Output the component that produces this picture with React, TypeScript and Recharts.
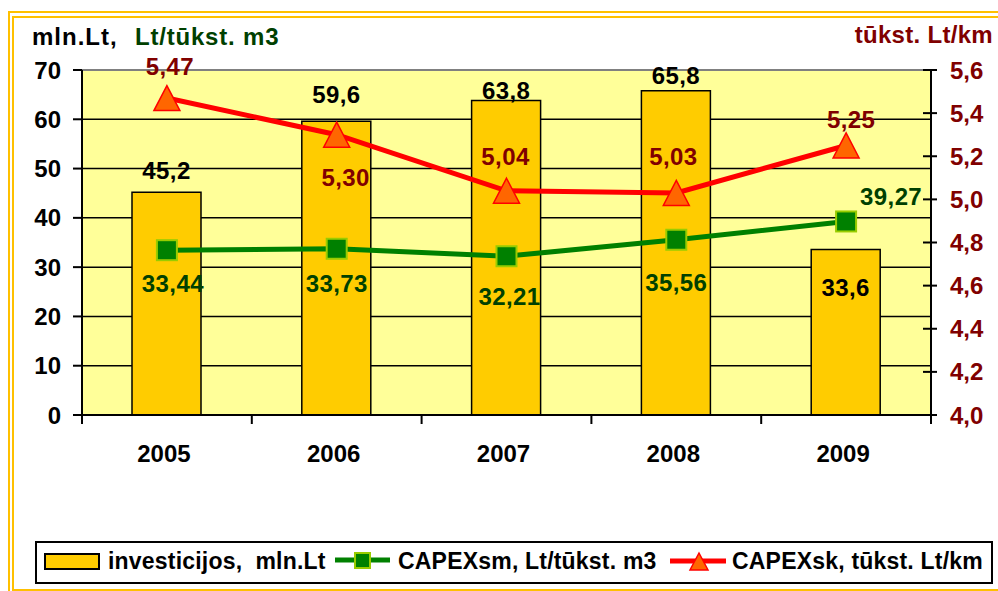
import React from 'react';
import {
  ComposedChart,
  Bar,
  Line,
  XAxis,
  YAxis,
  CartesianGrid,
  ReferenceLine,
  LabelList,
  Legend,
} from 'recharts';

// ---------- data ----------
const years = ['2005', '2006', '2007', '2008', '2009'];
const investicijos = [45.2, 59.6, 63.8, 65.8, 33.6];
const capexSm = [33.44, 33.73, 32.21, 35.56, 39.27];
const capexSk = [5.47, 5.3, 5.04, 5.03, 5.25];
const leftTicks = [0, 10, 20, 30, 40, 50, 60, 70];
const rightTicks = [4.0, 4.2, 4.4, 4.6, 4.8, 5.0, 5.2, 5.4, 5.6];
const seriesNames = ['investicijos,  mln.Lt', 'CAPEXsm, Lt/tūkst. m3', 'CAPEXsk, tūkst. Lt/km'];
const leftTitle = 'mln.Lt,';
const leftTitle2 = 'Lt/tūkst. m3';
const rightTitle = 'tūkst. Lt/km';

const data = years.map((y, i) => ({ year: y, inv: investicijos[i], sm: capexSm[i], sk: capexSk[i] }));

// ---------- layout ----------
const W = 998;
const H = 591;
const PL = 82;
const PR = 931;
const PT = 70;
const PB = 415;
const BAND = (PR - PL) / years.length;
const FONT = "Arial, 'Liberation Sans', sans-serif";
const DARK_RED = '#800000';
const DARK_GREEN = '#004000';

const fmt = (v: number, d: number) => Number(v).toFixed(d).replace('.', ',');

// label offsets (layout only)
const barLabelDy = [-13, -18, -2, -7, 47];
const smLabelDx = [6, 0, 3, 0, 45];
const smLabelDy = [42, 43, 49, 51, -16];
const skLabelDx = [3, 9, -1, -3, 5];
const skLabelDy = [-23, 51, -26, -28, -17];

const LeftTick = (p: any) => {
  const { y, payload } = p;
  return (
    <g>
      <line x1={PL - 9} x2={PL} y1={y} y2={y} stroke="#000" strokeWidth={2} />
      <text x={PL - 21} y={y + 8.5} textAnchor="end" fontSize={24} fontWeight="bold" fontFamily={FONT} fill="#000">
        {payload.value}
      </text>
    </g>
  );
};

const RightTick = (p: any) => {
  const { y, payload } = p;
  return (
    <g>
      <line x1={PR - 8} x2={PR + 6} y1={y} y2={y} stroke="#000" strokeWidth={2} />
      <text x={PR + 19} y={y + 8.5} textAnchor="start" fontSize={24} fontWeight="bold" fontFamily={FONT} fill={DARK_RED}>
        {fmt(payload.value, 1)}
      </text>
    </g>
  );
};

const XTick = (p: any) => {
  const { x, payload, index } = p;
  const last = index === years.length - 1;
  return (
    <g>
      <line x1={x - BAND / 2} x2={x - BAND / 2} y1={PB} y2={PB + 9} stroke="#000" strokeWidth={2} />
      {last && <line x1={x + BAND / 2} x2={x + BAND / 2} y1={PB} y2={PB + 9} stroke="#000" strokeWidth={2} />}
      <text x={x - 3} y={462} textAnchor="middle" fontSize={24} fontWeight="bold" fontFamily={FONT} fill="#000">
        {payload.value}
      </text>
    </g>
  );
};

const GreenDot = (p: any) => {
  const { cx, cy } = p;
  if (cx == null || cy == null) return <g />;
  return <rect x={cx - 10} y={cy - 10} width={20} height={20} fill="#008000" stroke="#99CC00" strokeWidth={2} />;
};

const RedDot = (p: any) => {
  const { cx, cy } = p;
  if (cx == null || cy == null) return <g />;
  return (
    <polygon
      points={`${cx},${cy - 12.5} ${cx + 13},${cy + 12.5} ${cx - 13},${cy + 12.5}`}
      fill="#FF6600"
      stroke="#FF0000"
      strokeWidth={1.5}
    />
  );
};

const BarLabel = (p: any) => {
  const { x, y, width, value, index } = p;
  return (
    <text x={x + width / 2} y={y + barLabelDy[index]} textAnchor="middle" fontSize={24} fontWeight="bold" fontFamily={FONT} fill="#000" letterSpacing={0.4}>
      {fmt(value, 1)}
    </text>
  );
};

const SmLabel = (p: any) => {
  const { x, y, value, index } = p;
  return (
    <text x={x + smLabelDx[index]} y={y + smLabelDy[index]} textAnchor="middle" fontSize={24} fontWeight="bold" fontFamily={FONT} fill={DARK_GREEN} letterSpacing={0.4}>
      {fmt(value, 2)}
    </text>
  );
};

const SkLabel = (p: any) => {
  const { x, y, value, index } = p;
  return (
    <text x={x + skLabelDx[index]} y={y + skLabelDy[index]} textAnchor="middle" fontSize={24} fontWeight="bold" fontFamily={FONT} fill={DARK_RED} letterSpacing={0.4}>
      {fmt(value, 2)}
    </text>
  );
};

const LegendContent = (props: any) => {
  const payload = props.payload || [];
  const nameOf = (k: string, fb: string) => {
    const e = payload.find((q: any) => q.dataKey === k);
    return e && e.value ? e.value : fb;
  };
  const ts = { fontSize: 23, fontWeight: 'bold' as const, fontFamily: FONT, fill: '#000', whiteSpace: 'pre' as const, letterSpacing: 0.2 };
  return (
    <svg width={958} height={43} style={{ display: 'block' }}>
      <rect x={1} y={1} width={956} height={41} fill="#fff" stroke="#000" strokeWidth={2} />
      <rect x={10} y={13} width={54} height={15} fill="#FFCC00" stroke="#000" strokeWidth={2} />
      <text x={73} y={28} style={ts}>{nameOf('inv', seriesNames[0])}</text>
      <line x1={300} x2={355} y1={19} y2={19} stroke="#008000" strokeWidth={5} />
      <rect x={320} y={12} width={15} height={15} fill="#008000" stroke="#99CC00" strokeWidth={2} />
      <text x={363} y={28} style={ts}>{nameOf('sm', seriesNames[1])}</text>
      <line x1={635} x2={691} y1={20} y2={20} stroke="#FF0000" strokeWidth={5} />
      <polygon points="664,12 673,29 655,29" fill="#FF6600" stroke="#FF0000" strokeWidth={1.5} />
      <text x={697} y={28} style={ts}>{nameOf('sk', seriesNames[2])}</text>
    </svg>
  );
};

export default function App() {
  return (
    <div style={{ position: 'absolute', left: 0, top: 0, width: W, height: H, overflow: 'hidden', background: '#fff' }}>
      <div
        style={{
          position: 'absolute',
          left: 8,
          top: 11,
          width: 1010,
          height: 584,
          boxSizing: 'border-box',
          borderTop: '7px double #FFC000',
          borderLeft: '6px double #FFC000',
          borderBottom: '6px double #FFC000',
          borderRight: '6px double #FFC000',
        }}
      />
      <div style={{ position: 'absolute', left: 0, top: 0 }}>
        <ComposedChart
          width={W}
          height={H}
          data={data}
          margin={{ top: PT, left: PL - 60, right: W - PR - 60, bottom: H - PB - 30 }}
        >
          <CartesianGrid yAxisId="left" vertical={false} stroke="#000" strokeWidth={1.5} fill="#FFFF99" fillOpacity={1} />
          <XAxis
            dataKey="year"
            height={30}
            interval={0}
            tickLine={false}
            axisLine={{ stroke: '#000', strokeWidth: 2 }}
            tick={(p: any) => <XTick {...p} />}
          />
          <YAxis
            yAxisId="left"
            width={60}
            domain={[0, 70]}
            ticks={leftTicks}
            interval={0}
            tickLine={false}
            axisLine={{ stroke: '#000', strokeWidth: 2 }}
            tick={(p: any) => <LeftTick {...p} />}
          />
          <YAxis
            yAxisId="right"
            orientation="right"
            width={60}
            domain={[4, 5.6]}
            ticks={rightTicks}
            interval={0}
            tickLine={false}
            axisLine={{ stroke: '#000', strokeWidth: 2 }}
            tick={(p: any) => <RightTick {...p} />}
          />
          <ReferenceLine yAxisId="left" y={70} stroke="#808080" strokeWidth={2} />
          <Bar
            yAxisId="left"
            dataKey="inv"
            name={seriesNames[0]}
            fill="#FFCC00"
            stroke="#000"
            strokeWidth={1.5}
            barSize={69}
            isAnimationActive={false}
          >
            <LabelList dataKey="inv" content={(p: any) => <BarLabel {...p} />} />
          </Bar>
          <Line
            yAxisId="left"
            type="linear"
            dataKey="sm"
            name={seriesNames[1]}
            stroke="#008000"
            strokeWidth={5}
            dot={(p: any) => <GreenDot key={`g${p.index}`} {...p} />}
            activeDot={false}
            isAnimationActive={false}
          >
            <LabelList dataKey="sm" content={(p: any) => <SmLabel {...p} />} />
          </Line>
          <Line
            yAxisId="right"
            type="linear"
            dataKey="sk"
            name={seriesNames[2]}
            stroke="#FF0000"
            strokeWidth={5}
            dot={(p: any) => <RedDot key={`r${p.index}`} {...p} />}
            activeDot={false}
            isAnimationActive={false}
          >
            <LabelList dataKey="sk" content={(p: any) => <SkLabel {...p} />} />
          </Line>
          <Legend
            layout="horizontal"
            verticalAlign="middle"
            align="center"
            wrapperStyle={{ position: 'absolute', left: 35, top: 541, width: 958, height: 43 }}
            content={(p: any) => <LegendContent {...p} />}
          />
        </ComposedChart>
      </div>
      <svg width={W} height={H} style={{ position: 'absolute', left: 0, top: 0, pointerEvents: 'none' }}>
        <text x={32} y={45} fontSize={24} fontWeight="bold" fontFamily={FONT} fill="#000" letterSpacing={1}>{leftTitle}</text>
        <text x={135} y={45} fontSize={24} fontWeight="bold" fontFamily={FONT} fill={DARK_GREEN} letterSpacing={0.8}>{leftTitle2}</text>
        <text x={993} y={43} textAnchor="end" fontSize={24} fontWeight="bold" fontFamily={FONT} fill={DARK_RED} letterSpacing={0.3}>{rightTitle}</text>
      </svg>
    </div>
  );
}
